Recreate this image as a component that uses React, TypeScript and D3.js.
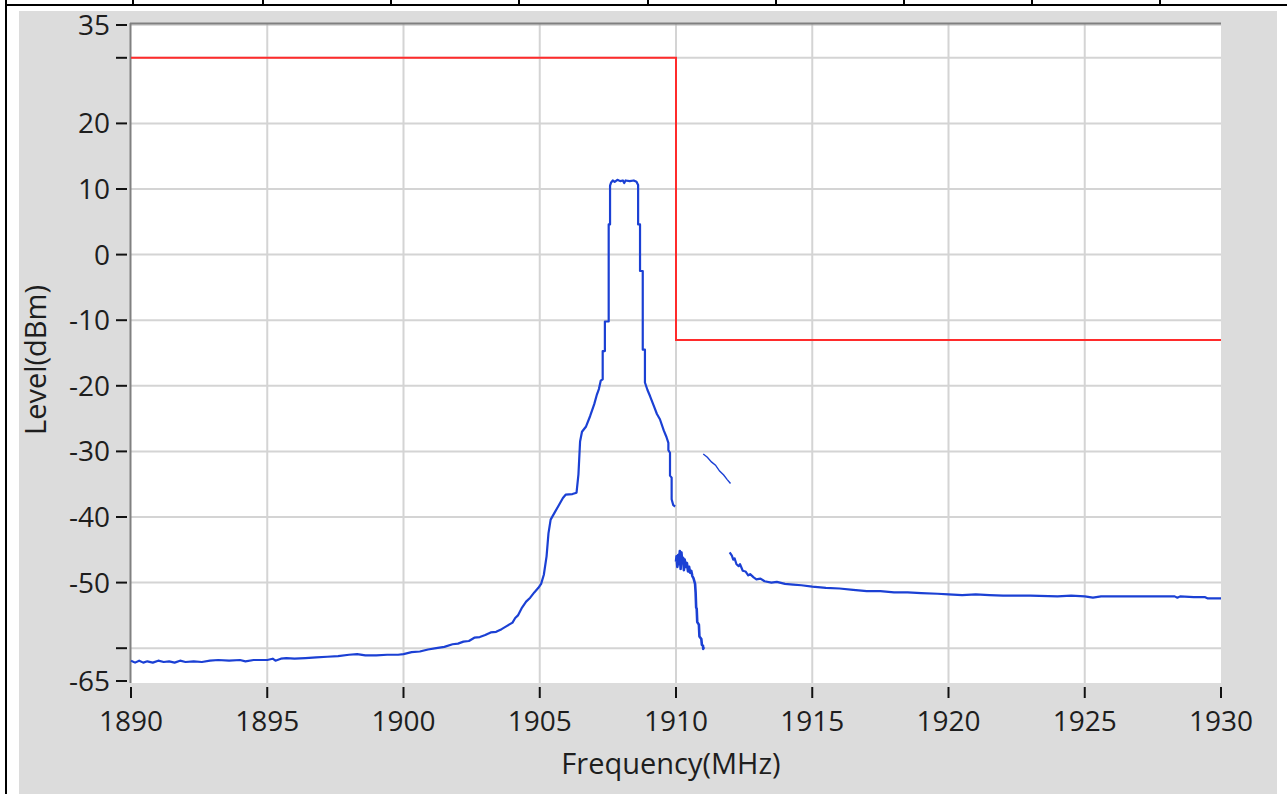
import React from "react";
import * as d3 from "d3";

// ---- Data ----
const xTicks = [1890, 1895, 1900, 1905, 1910, 1915, 1920, 1925, 1930];
const yTicks = [35, 30, 20, 10, 0, -10, -20, -30, -40, -50, -60, -65];
const yTickLabels = ["35", "", "20", "10", "0", "-10", "-20", "-30", "-40", "-50", "", "-65"];
const yGridValues = [30, 20, 10, 0, -10, -20, -30, -40, -50, -60];

const limitFreq = [1890, 1910, 1910, 1930];
const limitLevel = [30, 30, -13, -13];

const traceMain: [number, number][] = [
  [1890.0, -61.9], [1890.15, -62.2], [1890.3, -61.9], [1890.45, -62.2], [1890.6, -62.0], [1890.8, -62.2],
  [1891.0, -61.9], [1891.2, -62.1], [1891.4, -62.0], [1891.6, -62.2], [1891.8, -61.9], [1892.0, -62.1],
  [1892.3, -62.0], [1892.6, -62.1], [1892.9, -61.9], [1893.2, -61.8], [1893.6, -61.9], [1894.0, -61.8],
  [1894.2, -62.0], [1894.5, -61.8], [1895.0, -61.8], [1895.2, -61.6], [1895.3, -61.9], [1895.5, -61.6],
  [1895.7, -61.5], [1896.0, -61.6], [1896.4, -61.5], [1896.8, -61.4], [1897.2, -61.3], [1897.6, -61.2],
  [1898.0, -61.0], [1898.3, -60.9], [1898.6, -61.1], [1899.0, -61.1], [1899.4, -61.0], [1899.8, -61.0],
  [1900.0, -60.9], [1900.3, -60.6], [1900.6, -60.5], [1900.9, -60.2], [1901.2, -60.0], [1901.5, -59.8],
  [1901.8, -59.4], [1902.0, -59.3], [1902.2, -59.0], [1902.4, -58.9], [1902.6, -58.4], [1902.8, -58.3],
  [1903.0, -58.0], [1903.2, -57.6], [1903.4, -57.5], [1903.6, -57.1], [1903.8, -56.6], [1904.0, -56.1],
  [1904.1, -55.4], [1904.2, -55.0], [1904.35, -53.8], [1904.5, -52.9], [1904.65, -52.3], [1904.8, -51.5],
  [1904.95, -50.8], [1905.05, -50.2], [1905.15, -48.8], [1905.25, -46.0], [1905.32, -42.5], [1905.4, -40.4],
  [1905.55, -39.3], [1905.7, -38.2], [1905.85, -37.1], [1905.95, -36.6], [1906.2, -36.5], [1906.35, -36.3],
  [1906.42, -33.5], [1906.48, -28.5], [1906.55, -27.0], [1906.7, -26.2], [1906.85, -24.6], [1907.0, -22.8],
  [1907.1, -21.3], [1907.17, -20.5], [1907.24, -19.2], [1907.31, -19.0], [1907.31, -14.7], [1907.39, -14.7],
  [1907.39, -10.2], [1907.53, -10.2], [1907.53, 4.6], [1907.58, 4.6], [1907.58, 10.5], [1907.62, 11.0],
  [1907.68, 11.3], [1907.75, 11.1], [1907.85, 11.4], [1907.95, 11.2], [1908.05, 11.3], [1908.1, 10.9],
  [1908.15, 11.3], [1908.3, 11.2], [1908.45, 11.3], [1908.55, 11.1], [1908.61, 10.6], [1908.61, 4.6],
  [1908.68, 4.6], [1908.68, -2.5], [1908.78, -2.5], [1908.78, -14.5], [1908.86, -14.5], [1908.86, -19.5],
  [1908.95, -20.6], [1909.05, -21.6], [1909.2, -23.2], [1909.3, -24.3], [1909.41, -25.1], [1909.55, -26.8],
  [1909.65, -27.8], [1909.72, -28.7], [1909.72, -29.8], [1909.78, -30.2], [1909.78, -33.7], [1909.84, -34.0],
  [1909.84, -37.3], [1909.9, -38.2], [1909.97, -38.4],
];

const traceNear1910: [number, number][] = [
  [1910.0, -46.8], [1910.02, -46.0], [1910.05, -47.6], [1910.08, -45.8], [1910.11, -47.2], [1910.14, -45.2],
  [1910.17, -47.9], [1910.2, -45.4], [1910.23, -47.0], [1910.26, -46.2], [1910.29, -48.1], [1910.32, -46.5],
  [1910.36, -47.6], [1910.4, -47.0], [1910.44, -48.3], [1910.48, -47.6], [1910.52, -48.5], [1910.56, -48.2],
  [1910.6, -49.0], [1910.64, -49.3], [1910.7, -50.2], [1910.72, -51.5], [1910.74, -53.8], [1910.76, -54.0],
  [1910.78, -56.0], [1910.84, -56.4], [1910.86, -58.2], [1910.93, -58.6], [1910.95, -59.5], [1910.99, -59.6],
  [1911.0, -60.1], [1911.03, -59.8],
];

const traceDiagonal: [number, number][] = [
  [1911.0, -30.4], [1911.15, -30.9], [1911.3, -31.6], [1911.45, -32.1], [1911.6, -33.0], [1911.75, -33.6],
  [1911.88, -34.3], [1912.0, -34.9],
];

const traceUpper: [number, number][] = [
  [1911.97, -45.4], [1912.05, -45.9], [1912.1, -46.5], [1912.15, -46.3], [1912.22, -47.2], [1912.3, -47.5],
  [1912.35, -47.2], [1912.45, -48.2], [1912.55, -48.3], [1912.65, -48.9], [1912.72, -48.7], [1912.85, -49.2],
  [1912.95, -49.5], [1913.1, -49.4], [1913.25, -49.8], [1913.5, -50.0], [1913.7, -49.9], [1914.0, -50.2],
  [1914.3, -50.3], [1914.6, -50.4], [1915.0, -50.6], [1915.5, -50.8], [1916.0, -50.9], [1916.5, -51.1],
  [1917.0, -51.3], [1917.5, -51.3], [1918.0, -51.5], [1918.5, -51.5], [1919.0, -51.6], [1919.6, -51.7],
  [1920.0, -51.8], [1920.5, -51.9], [1921.0, -51.8], [1921.5, -51.9], [1922.0, -52.0], [1923.0, -52.0],
  [1924.0, -52.1], [1924.5, -52.0], [1925.0, -52.1], [1925.3, -52.3], [1925.6, -52.1], [1926.5, -52.1],
  [1927.5, -52.1], [1928.3, -52.1], [1928.4, -52.3], [1928.5, -52.1], [1929.0, -52.2], [1929.4, -52.2],
  [1929.5, -52.4], [1930.0, -52.4],
];

const headerDividers = [133, 263, 391, 519, 648, 776, 904, 1032, 1160];

// ---- Layout ----
const W = 1287;
const H = 794;
const plotL = 131;
const plotR = 1221;
const plotT = 24;
const plotB = 683;
const FONT = "'Open Sans', 'Noto Sans', sans-serif";
const TEXT = "#1e1e1e";

export default function App() {
  const x = d3.scaleLinear().domain([1890, 1930]).range([plotL, plotR]);
  const y = d3.scaleLinear().domain([35, -65]).range([25, 681]);
  const line = d3
    .line<[number, number]>()
    .x((d) => x(d[0]))
    .y((d) => y(d[1]));
  const limitPts: [number, number][] = limitFreq.map((f, i) => [f, limitLevel[i]]);

  return (
    <svg
      width={W}
      height={H}
      style={{ position: "absolute", left: 0, top: 0, display: "block" }}
      fontFamily={FONT}
    >
      <rect x={0} y={0} width={W} height={H} fill="#ffffff" />
      {/* outer table frame */}
      <rect x={19} y={11} width={1258} height={H - 11} fill="#dcdcdc" />
      <line x1={5} x2={W} y1={5} y2={5} stroke="#000" strokeWidth={2} />
      <line x1={6} x2={6} y1={0} y2={H} stroke="#000" strokeWidth={2} />
      {headerDividers.map((d) => (
        <line key={d} x1={d} x2={d} y1={0} y2={5} stroke="#000" strokeWidth={2} />
      ))}

      {/* plot area */}
      <rect x={plotL} y={plotT} width={plotR - plotL} height={plotB - plotT} fill="#ffffff" />
      {xTicks.slice(1, -1).map((t) => (
        <line key={"gx" + t} x1={x(t)} x2={x(t)} y1={plotT} y2={plotB} stroke="#d4d4d4" strokeWidth={2} />
      ))}
      {yGridValues.map((t) => (
        <line key={"gy" + t} x1={plotL} x2={plotR} y1={y(t)} y2={y(t)} stroke="#d4d4d4" strokeWidth={2} />
      ))}
      {/* frame: dark top/left */}
      <line x1={plotL} x2={plotR} y1={plotT + 1} y2={plotT + 1} stroke="#b5b5b5" strokeWidth={1} />
      <line x1={plotL - 1} x2={plotR} y1={plotT - 0.5} y2={plotT - 0.5} stroke="#808080" strokeWidth={2} />
      <line x1={plotL - 0.5} x2={plotL - 0.5} y1={plotT - 1} y2={plotB} stroke="#808080" strokeWidth={2} />

      {/* limit line */}
      <path d={line(limitPts) || ""} fill="none" stroke="#ff2b2b" strokeWidth={2} />

      {/* traces */}
      <path d={line(traceMain) || ""} fill="none" stroke="#1b40d4" strokeWidth={2.2} strokeLinejoin="round" />
      <path d={line(traceNear1910) || ""} fill="none" stroke="#1b40d4" strokeWidth={2.6} strokeLinejoin="round" />
      <path d={line(traceDiagonal) || ""} fill="none" stroke="#1b40d4" strokeWidth={1.4} />
      <path d={line(traceUpper) || ""} fill="none" stroke="#1b40d4" strokeWidth={2.2} strokeLinejoin="round" />

      {/* y axis */}
      {yTicks.map((t, i) => (
        <g key={"yt" + t}>
          <line x1={116} x2={127} y1={y(t)} y2={y(t)} stroke="#111" strokeWidth={2} />
          {yTickLabels[i] !== "" && (
            <text x={110} y={y(t)} dy="0.36em" textAnchor="end" fontSize={28} fill={TEXT}>
              {yTickLabels[i]}
            </text>
          )}
        </g>
      ))}
      {/* x axis */}
      {xTicks.map((t) => (
        <g key={"xt" + t}>
          <line x1={x(t)} x2={x(t)} y1={687} y2={698} stroke="#111" strokeWidth={2} />
          <text x={x(t)} y={731} textAnchor="middle" fontSize={28} fill={TEXT}>
            {t}
          </text>
        </g>
      ))}
      <text x={671} y={774} textAnchor="middle" fontSize={29} fill={TEXT}>
        Frequency(MHz)
      </text>
      <text
        transform={`translate(46, ${360}) rotate(-90)`}
        textAnchor="middle"
        fontSize={29}
        fill={TEXT}
      >
        Level(dBm)
      </text>
    </svg>
  );
}
